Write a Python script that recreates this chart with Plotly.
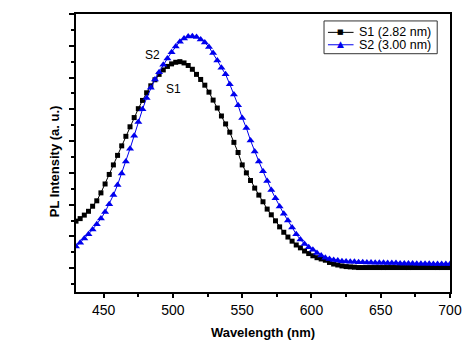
import plotly.graph_objects as go

wavelength = list(range(430, 701, 3))

s1_intensity = [
    1.48, 1.56, 1.67, 1.79, 1.95, 2.12, 2.37, 2.65, 2.95, 3.25,
    3.55, 3.85, 4.15, 4.45, 4.74, 5.02, 5.28, 5.52, 5.74, 5.93,
    6.10, 6.24, 6.35, 6.43, 6.48, 6.50, 6.46, 6.38, 6.26, 6.10,
    5.94, 5.76, 5.54, 5.29, 5.04, 4.79, 4.54, 4.28, 3.96, 3.64,
    3.25, 3.00, 2.76, 2.52, 2.30, 2.09, 1.86, 1.68, 1.49, 1.30,
    1.13, 0.98, 0.85, 0.73, 0.64, 0.54, 0.46, 0.39, 0.33, 0.29,
    0.25, 0.18, 0.13, 0.10, 0.07, 0.05, 0.04, 0.03, 0.02, 0.02,
    0.02, 0.02, 0.02, 0.02, 0.02, 0.02, 0.02, 0.02, 0.02, 0.02,
    0.02, 0.02, 0.02, 0.02, 0.02, 0.02, 0.02, 0.02, 0.02, 0.02,
    0.02,
]

s2_intensity = [
    0.68, 0.80, 0.93, 1.07, 1.22, 1.38, 1.56, 1.77, 2.01, 2.30,
    2.62, 2.98, 3.36, 3.76, 4.17, 4.60, 5.00, 5.36, 5.68, 5.94,
    6.17, 6.40, 6.60, 6.80, 6.98, 7.13, 7.23, 7.29, 7.30, 7.28,
    7.20, 7.10, 6.96, 6.77, 6.54, 6.31, 6.10, 5.79, 5.47, 5.13,
    4.73, 4.41, 4.02, 3.67, 3.36, 3.05, 2.74, 2.46, 2.20, 1.94,
    1.71, 1.50, 1.28, 1.07, 0.90, 0.76, 0.66, 0.58, 0.48, 0.40,
    0.33, 0.29, 0.26, 0.24, 0.22, 0.21, 0.20, 0.20, 0.19, 0.19,
    0.18, 0.18, 0.17, 0.17, 0.17, 0.16, 0.16, 0.16, 0.15, 0.15,
    0.15, 0.15, 0.14, 0.14, 0.14, 0.14, 0.13, 0.13, 0.13, 0.13,
    0.13,
]

series_names = ["S1 (2.82 nm)", "S2 (3.00 nm)"]
curve_labels = ["S1", "S2"]
x_ticks = [450, 500, 550, 600, 650, 700]

FONT = "Arial, Liberation Sans, sans-serif"

fig = go.Figure()
fig.add_trace(go.Scatter(
    x=wavelength, y=s1_intensity, mode="lines+markers", name=series_names[0],
    line=dict(color="black", width=1),
    marker=dict(symbol="square", size=5, color="black"),
    showlegend=False,
))
fig.add_trace(go.Scatter(
    x=wavelength, y=s2_intensity, mode="lines+markers", name=series_names[1],
    line=dict(color="#0000ee", width=1),
    marker=dict(symbol="triangle-up", size=7, color="#0000ee"),
    showlegend=False,
))

L, R, T, B = 76, 456, 12, 292
W, H = 474, 353


def px(xp):
    return (xp - L) / (R - L)


def py(yp):
    return (B - yp) / (B - T)


shapes = [
    dict(type="rect", xref="paper", yref="paper",
         x0=px(328), x1=px(443), y0=py(52), y1=py(19),
         line=dict(color="#333333", width=1), fillcolor="white"),
    dict(type="line", xref="paper", yref="paper",
         x0=px(332), x1=px(358), y0=py(30.5), y1=py(30.5),
         line=dict(color="black", width=1)),
    dict(type="line", xref="paper", yref="paper",
         x0=px(332), x1=px(358), y0=py(43), y1=py(43),
         line=dict(color="#0000ee", width=1)),
]

annotations = [
    dict(xref="paper", yref="paper", x=px(345), y=py(30.5), text="■",
         showarrow=False, font=dict(family="DejaVu Sans", size=7, color="black"),
         xanchor="center", yanchor="middle"),
    dict(xref="paper", yref="paper", x=px(345), y=py(42), text="▲",
         showarrow=False, font=dict(family="DejaVu Sans", size=9, color="#0000ee"),
         xanchor="center", yanchor="middle"),
    dict(xref="paper", yref="paper", x=px(363), y=py(30.5), text=series_names[0],
         showarrow=False, font=dict(family=FONT, size=12.5, color="black"),
         xanchor="left", yanchor="middle", borderpad=0),
    dict(xref="paper", yref="paper", x=px(363), y=py(43), text=series_names[1],
         showarrow=False, font=dict(family=FONT, size=12.5, color="black"),
         xanchor="left", yanchor="middle", borderpad=0),
    dict(x=485.5, y=6.72, text=curve_labels[1], showarrow=False,
         font=dict(family=FONT, size=12, color="black")),
    dict(x=500.5, y=5.63, text=curve_labels[0], showarrow=False,
         font=dict(family=FONT, size=12, color="black")),
    dict(xref="paper", yref="paper", x=px(55), y=py(160), text="<b>PL Intensity (a. u.)</b>",
         textangle=-90, showarrow=False, font=dict(family=FONT, size=13, color="black"),
         xanchor="center", yanchor="middle"),
]

fig.update_layout(
    width=W, height=H,
    margin=dict(l=L, r=W - R, t=T, b=H - B),
    paper_bgcolor="white", plot_bgcolor="white",
    font=dict(family=FONT, color="black"),
    shapes=shapes, annotations=annotations,
)
fig.update_xaxes(
    range=[430, 700], tickvals=x_ticks, ticks="outside", ticklen=4, tickwidth=1.5,
    tickcolor="black", showline=True, linecolor="black", linewidth=2, mirror=True,
    showgrid=False, zeroline=False, tickfont=dict(size=14, family=FONT),
    minor=dict(dtick=25, tick0=425, ticks="outside", ticklen=3, tickwidth=1.5, tickcolor="black", showgrid=False),
    title=dict(text="<b>Wavelength (nm)</b>", font=dict(size=13, family=FONT), standoff=11),
)
fig.update_yaxes(
    range=[-0.75, 8.0], dtick=1, tick0=0, ticks="outside", ticklen=5, tickwidth=1.5,
    tickcolor="black", showline=True, linecolor="black", linewidth=2, mirror=True,
    showgrid=False, zeroline=False, showticklabels=False,
    minor=dict(dtick=0.5, tick0=0, ticks="outside", ticklen=3, tickwidth=1.5, tickcolor="black", showgrid=False),
)

fig.write_html("out.html")
